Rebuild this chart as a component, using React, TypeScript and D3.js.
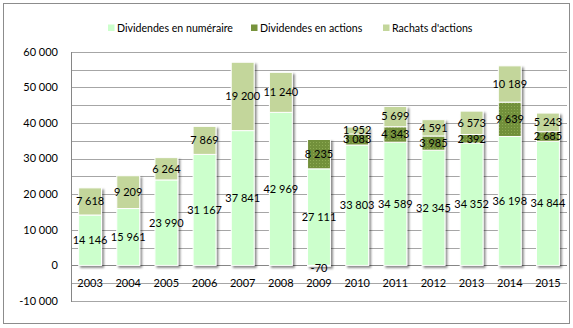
import React from "react";
import * as d3 from "d3";

const years = ["2003","2004","2005","2006","2007","2008","2009","2010","2011","2012","2013","2014","2015"];
const numeraire = [14146, 15961, 23990, 31167, 37841, 42969, 27111, 33803, 34589, 32345, 34352, 36198, 34844];
const actions = [0, 0, 0, 0, 0, 0, 8235, 3083, 4343, 3985, 2392, 9639, 2685];
const rachats = [7618, 9209, 6264, 7869, 19200, 11240, -70, 1952, 5699, 4591, 6573, 10189, 5243];
const seriesNames = ["Dividendes en numéraire", "Dividendes en actions", "Rachats d'actions"];
const yTicks = [-10000, 0, 10000, 20000, 30000, 40000, 50000, 60000];

const W = 573, H = 328;
const FONT = "Lato, 'Open Sans', sans-serif";
const colors = ["#ccffcc", "url(#dots)", "#c3d69b"];
const legendColors = ["#ccffcc", "#77933c", "#c3d69b"];

const fmt = (v: number) => {
  const s = d3.format(",")(v).replace(/,/g, " ");
  return s.replace("−", "-");
};

export default function App() {
  const x = d3.scaleBand<string>().domain(years).range([71, 567]).paddingInner(0.4).paddingOuter(0.2);
  const y = d3.scaleLinear().domain([-10000, 60000]).range([301, 51.7]);
  const rows = years.map((yr, i) => ({ year: yr, a: numeraire[i], b: actions[i], c: rachats[i] }));
  const keys = ["a", "b", "c"];
  const stack = d3.stack<any>().keys(keys).offset(d3.stackOffsetDiverging);
  const layers = stack(rows);
  const grid = d3.range(-10000, 60001, 5000);

  const legendX = [108, 251, 383];
  const FS = 11;

  return (
    <svg width={W} height={H} style={{ position: "absolute", left: 0, top: 0, fontFamily: FONT }}>
      <defs>
        <pattern id="dots" width="3" height="3" patternUnits="userSpaceOnUse">
          <rect width="3" height="3" fill="#72903a" />
          <rect x="1" y="1" width="1" height="1" fill="#8dab52" />
        </pattern>
        <filter id="shadow" x="-30%" y="-30%" width="160%" height="160%">
          <feDropShadow dx="2" dy="2" stdDeviation="1.2" floodColor="#000" floodOpacity="0.45" />
        </filter>
      </defs>
      <rect x={3.5} y={3.5} width={566} height={320} fill="#fff" stroke="#8c8c8c" strokeWidth={1} />
      {grid.map((g) => (
        <line key={g} x1={71} x2={567} y1={Math.round(y(g)) + 0.5} y2={Math.round(y(g)) + 0.5} stroke={g === 0 ? "#868686" : "#a6a6a6"} strokeWidth={1} />
      ))}
      <line x1={71.5} x2={71.5} y1={Math.round(y(60000))} y2={Math.round(y(-10000)) + 1} stroke="#868686" />
      {yTicks.map((t) => (
        <text key={t} x={58} y={y(t)} dy="0.35em" textAnchor="end" fontSize={FS} fill="#000">{fmt(t)}</text>
      ))}
      {years.map((yr) => (
        <text key={yr} x={x(yr)! + x.bandwidth() / 2} y={y(-5000)} dy="0.35em" textAnchor="middle" fontSize={FS} fill="#000">{yr}</text>
      ))}
      {rows.map((r, i) => (
        <g key={r.year} filter="url(#shadow)">
          {layers.map((layer, li) => {
            const d = layer[i];
            if (d[1] - d[0] === 0) return null;
            const y0 = y(Math.max(d[0], d[1]));
            const y1 = y(Math.min(d[0], d[1]));
            return (
              <rect key={li} x={x(r.year)!} y={y0} width={x.bandwidth()} height={Math.max(0.8, y1 - y0)} fill={colors[li]} stroke="#fff" strokeWidth={1} />
            );
          })}
        </g>
      ))}
      {rows.map((r, i) => (
        <g key={"l" + r.year}>
          {layers.map((layer, li) => {
            const d = layer[i];
            const v = [numeraire, actions, rachats][li][i];
            if (v === 0) return null;
            const cy = v < 0 ? y(d[0]) + 3 : y((d[0] + d[1]) / 2);
            return (
              <text key={li} x={x(r.year)! + x.bandwidth() / 2} y={cy} dy="0.35em" textAnchor="middle" fontSize={FS} fill="#000">{fmt(v)}</text>
            );
          })}
        </g>
      ))}
      {seriesNames.map((n, i) => (
        <g key={n}>
          <rect x={legendX[i]} y={24.5} width={6.5} height={6.5} fill={legendColors[i]} />
          <text x={legendX[i] + 9} y={28} dy="0.35em" fontSize={10.6} fill="#000">{n}</text>
        </g>
      ))}
    </svg>
  );
}
